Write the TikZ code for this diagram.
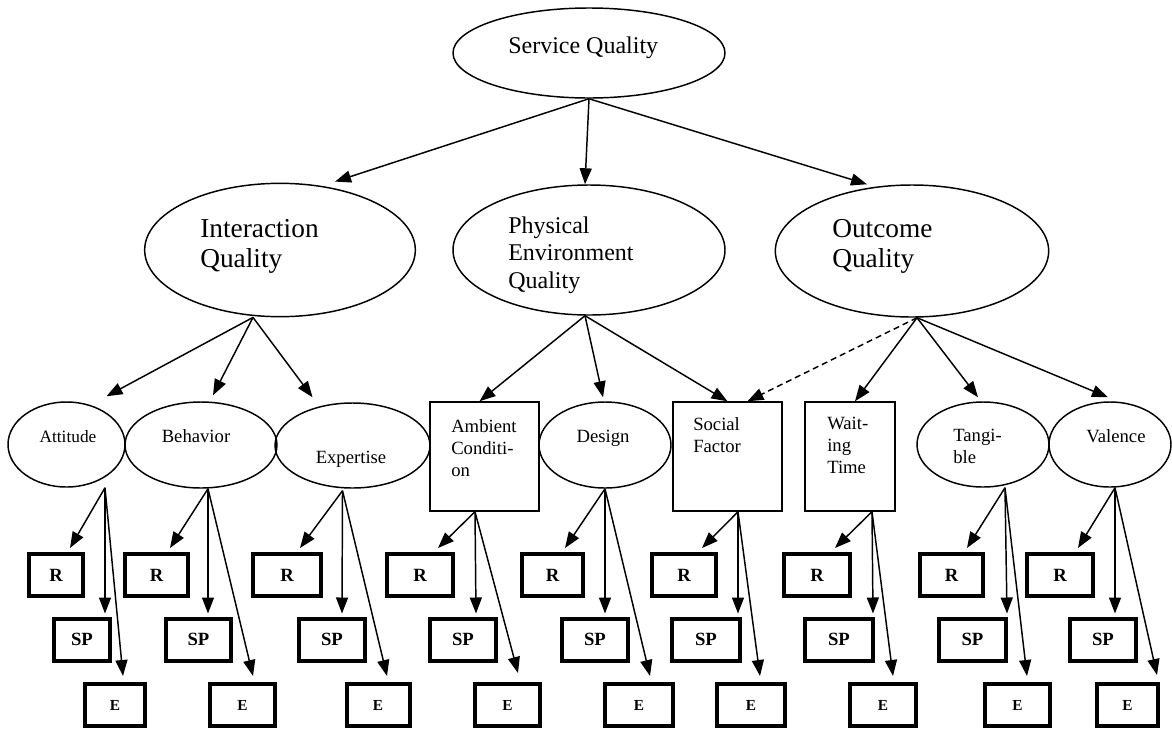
\documentclass[tikz,border=0pt]{standalone}
\usepackage{fontspec}
\setmainfont{Liberation Serif}
\usetikzlibrary{arrows.meta,calc,shapes.geometric}
\begin{document}
\begin{tikzpicture}[x=0.75pt,y=-0.75pt,
  lat/.style={ellipse,draw,line width=1.1pt,inner sep=0pt},
  lbox/.style={rectangle,draw,line width=1.1pt,inner sep=0pt},
  ind/.style={rectangle,draw,line width=3pt,inner sep=0pt,minimum height=31.5pt,font=\bfseries\fontsize{14}{14}\selectfont},
  inde/.style={ind,font=\bfseries\fontsize{11.5}{11.5}\selectfont},
  arr/.style={line width=1.1pt,-{Triangle[length=12pt,width=9pt]}},
  darr/.style={arr,dash pattern=on 4.5pt off 3pt},
  txt/.style={inner sep=0pt,align=left,anchor=north west},
  bigf/.style={font=\fontsize{20.5}{22.5}\selectfont},
  midf/.style={font=\fontsize{18}{20.6}\selectfont},
  smf/.style={font=\fontsize{14}{16.5}\selectfont},
  one/.style={inner sep=0pt,anchor=base},
]
\useasboundingbox (0,0) rectangle (1172,729);

% ---------- top level ----------
\node[lat,minimum width=204pt,minimum height=67.5pt] (sq) at (589,53) {};
\node[inner sep=0pt,anchor=base west,midf] (sqt) at (508,53) {Service Quality};

% ---------- dimensions ----------
\node[lat,minimum width=203pt,minimum height=100pt] (iq) at (280,250) {};
\node[txt,bigf] (iqt) at (200,219.5) {Interaction\\Quality};
\node[lat,minimum width=204pt,minimum height=97.5pt] (peq) at (589,250) {};
\node[txt,midf] (peqt) at (508,216.6) {Physical\\Environment\\Quality};
\node[lat,minimum width=205pt,minimum height=99pt] (oq) at (912,251) {};
\node[txt,bigf] (oqt) at (832,219.6) {Outcome\\Quality};

% ---------- sub-dimensions ----------
\node[lat,minimum width=87.75pt,minimum height=63.75pt] (att) at (66.5,444.5) {};
\node[one,font=\fontsize{13}{15}\selectfont] (attt) at (68,442) {Attitude};
\node[lat,minimum width=114pt,minimum height=64.5pt] (beh) at (201,445) {};
\node[one,smf] (beht) at (196,442) {Behavior};
\node[lat,minimum width=116.25pt,minimum height=63.75pt] (exp) at (352.5,445.5) {};
\node[one,smf] (expt) at (351,463) {Expertise};
\node[lbox,minimum width=81.75pt,minimum height=81.75pt] (amb) at (484.5,456.5) {};
\node[txt,smf] (ambt) at (451,419.3) {Ambient\\Conditi-\\on};
\node[lat,minimum width=99pt,minimum height=64.5pt] (des) at (605,445) {};
\node[one,smf] (dest) at (603,442) {Design};
\node[lbox,minimum width=81.75pt,minimum height=81.75pt] (soc) at (727.5,456.5) {};
\node[txt,smf] (soct) at (693,417.3) {Social\\Factor};
\node[lbox,minimum width=67.5pt,minimum height=81.75pt] (wai) at (850,456.5) {};
\node[txt,smf] (wait) at (827,417.3) {Wait-\\ing\\Time};
\node[lat,minimum width=99pt,minimum height=63.75pt] (tan) at (983,444.5) {};
\node[txt,smf] (tant) at (953,429.3) {Tangi-\\ble};
\node[lat,minimum width=91.5pt,minimum height=63.75pt] (val) at (1110,444.5) {};
\node[one,smf] (valt) at (1116,442) {Valence};

% ---------- indicators ----------
\node[ind,minimum width=40.5pt] (att-r) at (56,575) {R};
\node[ind,minimum width=42pt] (att-s) at (82,639.5) {SP};
\node[inde,minimum width=45pt] (att-e) at (115,705) {E};
\node[ind,minimum width=47.25pt] (beh-r) at (156.5,575) {R};
\node[ind,minimum width=48.75pt] (beh-s) at (198.5,639.5) {SP};
\node[inde,minimum width=48.75pt] (beh-e) at (242.5,705) {E};
\node[ind,minimum width=51pt] (exp-r) at (287,575) {R};
\node[ind,minimum width=49.5pt] (exp-s) at (332,639.5) {SP};
\node[inde,minimum width=47.25pt] (exp-e) at (378,705) {E};
\node[ind,minimum width=49.5pt] (amb-r) at (420,575) {R};
\node[ind,minimum width=49.5pt] (amb-s) at (463,639.5) {SP};
\node[inde,minimum width=48.75pt] (amb-e) at (507.5,705) {E};
\node[ind,minimum width=45.75pt] (des-r) at (552.5,575) {R};
\node[ind,minimum width=49.5pt] (des-s) at (595,639.5) {SP};
\node[inde,minimum width=51pt] (des-e) at (639,705) {E};
\node[ind,minimum width=48pt] (soc-r) at (684,575) {R};
\node[ind,minimum width=51pt] (soc-s) at (706,639.5) {SP};
\node[inde,minimum width=51pt] (soc-e) at (751,705) {E};
\node[ind,minimum width=49.5pt] (wai-r) at (817,575) {R};
\node[ind,minimum width=51pt] (wai-s) at (839,639.5) {SP};
\node[inde,minimum width=49.5pt] (wai-e) at (883,705) {E};
\node[ind,minimum width=47.25pt] (tan-r) at (951.5,575) {R};
\node[ind,minimum width=50.25pt] (tan-s) at (972.5,639.5) {SP};
\node[inde,minimum width=48.75pt] (tan-e) at (1017.5,705) {E};
\node[ind,minimum width=49.5pt] (val-r) at (1060,575) {R};
\node[ind,minimum width=49.5pt] (val-s) at (1103,639.5) {SP};
\node[inde,minimum width=45.75pt] (val-e) at (1127.5,705) {E};

% ---------- arrows: service quality -> dimensions ----------
\draw[arr] (sq.south) -- ($(iq.north)+(55,-1)$);
\draw[arr] (sq.south) -- ($(peq.north)+(-4,0)$);
\draw[arr] (sq.south) -- ($(oq.north)+(-45,0)$);

% ---------- dimensions -> sub-dimensions ----------
\draw[arr] ($(iq.south)+(-27,0)$) -- ($(att.north)+(40,-5)$);
\draw[arr] ($(iq.south)+(-27,0)$) -- ($(beh.north)+(12,-6)$);
\draw[arr] ($(iq.south)+(-27,0)$) -- ($(exp.north)+(-40,-5)$);
\draw[arr] ($(peq.south)+(-4,0)$) -- ($(amb.north)+(-5,0)$);
\draw[arr] ($(peq.south)+(-4,0)$) -- ($(des.north)+(-2,-4)$);
\draw[arr] ($(peq.south)+(-4,0)$) -- ($(soc.north)+(0,0)$);
\draw[darr] ($(oq.south)+(5,0)$) -- ($(soc.north)+(20,0)$);
\draw[arr] ($(oq.south)+(5,0)$) -- ($(wai.north)+(5,0)$);
\draw[arr] ($(oq.south)+(5,0)$) -- ($(tan.north)+(-5,-4)$);
\draw[arr] ($(oq.south)+(5,0)$) -- ($(val.north)+(-2,-4)$);

% ---------- sub-dimensions -> indicators ----------
\draw[arr] ($(att.south)+(38.5,0)$) -- ($(att-r.north)+(14,-4)$);
\draw[arr] ($(att.south)+(38.5,0)$) -- ($(att-s.north)+(23,-3)$);
\draw[arr] ($(att.south)+(38.5,0)$) -- ($(att-e.north)+(8,-6)$);
\draw[arr] ($(beh.south)+(7,0)$) -- ($(beh-r.north)+(13.5,-4)$);
\draw[arr] ($(beh.south)+(7,0)$) -- ($(beh-s.north)+(9.5,-3)$);
\draw[arr] ($(beh.south)+(7,0)$) -- ($(beh-e.north)+(10.5,-6)$);
\draw[arr] ($(exp.south)+(-10,2)$) -- ($(exp-r.north)+(13,-4)$);
\draw[arr] ($(exp.south)+(-10,2)$) -- ($(exp-s.north)+(10,-3)$);
\draw[arr] ($(exp.south)+(-10,2)$) -- ($(exp-e.north)+(9,-6)$);
\draw[arr] ($(amb.south)+(-9.5,0)$) -- ($(amb-r.north)+(18,-4)$);
\draw[arr] ($(amb.south)+(-9.5,0)$) -- ($(amb-s.north)+(13,-3)$);
\draw[arr] ($(amb.south)+(-9.5,0)$) -- ($(amb-e.north)+(10.5,-9)$);
\draw[arr] ($(des.south)+(0,0)$) -- ($(des-r.north)+(12.5,-4)$);
\draw[arr] ($(des.south)+(0,0)$) -- ($(des-s.north)+(10,-3)$);
\draw[arr] ($(des.south)+(0,0)$) -- ($(des-e.north)+(11,-6)$);
\draw[arr] ($(soc.south)+(10.5,0)$) -- ($(soc-r.north)+(18,-4)$);
\draw[arr] ($(soc.south)+(10.5,0)$) -- ($(soc-s.north)+(32,-3)$);
\draw[arr] ($(soc.south)+(10.5,0)$) -- ($(soc-e.north)+(9,-6)$);
\draw[arr] ($(wai.south)+(22,0)$) -- ($(wai-r.north)+(18,-4)$);
\draw[arr] ($(wai.south)+(22,0)$) -- ($(wai-s.north)+(34,-3)$);
\draw[arr] ($(wai.south)+(22,0)$) -- ($(wai-e.north)+(10,-6)$);
\draw[arr] ($(tan.south)+(22,0)$) -- ($(tan-r.north)+(15.5,-4)$);
\draw[arr] ($(tan.south)+(22,0)$) -- ($(tan-s.north)+(34.5,-3)$);
\draw[arr] ($(tan.south)+(22,0)$) -- ($(tan-e.north)+(9.5,-6)$);
\draw[arr] ($(val.south)+(5,0)$) -- ($(val-r.north)+(18,-4)$);
\draw[arr] ($(val.south)+(5,0)$) -- ($(val-s.north)+(12,-3)$);
\draw[arr] ($(val.south)+(5,0)$) -- ($(val-e.north)+(29.5,-7)$);
\end{tikzpicture}
\end{document}
